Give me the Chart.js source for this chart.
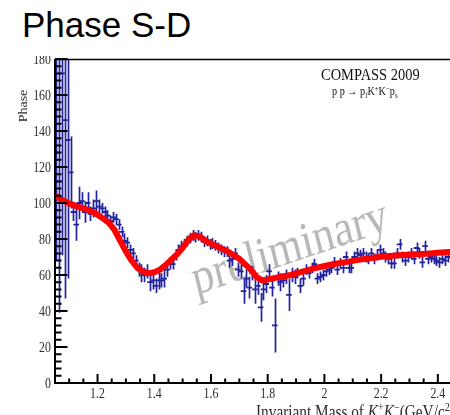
<!DOCTYPE html>
<html>
<head>
<meta charset="utf-8">
<title>Phase S-D</title>
<script src="https://cdn.jsdelivr.net/npm/chart.js@4.4.1/dist/chart.umd.min.js"></script>
<style>
  html, body { margin: 0; padding: 0; overflow: hidden; background: #fff; width: 450px; height: 415px; }
  #wrap { position: absolute; left: 0; top: 0; width: 472px; height: 415px; }
  #head { position: absolute; left: 0; top: 0; width: 450px; height: 56px; background: #fff; z-index: 2; }
  #head span { position: absolute; left: 22px; top: 7px; font-family: "Liberation Sans", Arial, sans-serif; font-size: 35px; line-height: 1; color: #000; white-space: nowrap; }
</style>
</head>
<body>
<div id="head"><span>Phase S-D</span></div>
<div id="wrap"><canvas id="c" width="472" height="415"></canvas></div>
<script>
// Invariant mass bins (GeV/c^2) of the K+K- system
const mass = [
  1.055, 1.065, 1.075, 1.085, 1.095, 1.105, 1.115, 1.125, 1.135, 1.145,
  1.155, 1.165, 1.175, 1.185, 1.195, 1.205, 1.215, 1.225, 1.235, 1.245,
  1.255, 1.265, 1.275, 1.285, 1.295, 1.305, 1.315, 1.325, 1.335, 1.345,
  1.355, 1.365, 1.375, 1.385, 1.395, 1.405, 1.415, 1.425, 1.435, 1.445,
  1.455, 1.465, 1.475, 1.485, 1.495, 1.505, 1.515, 1.525, 1.535, 1.545,
  1.555, 1.565, 1.575, 1.585, 1.595, 1.605, 1.615, 1.625, 1.635, 1.645,
  1.655, 1.665, 1.675, 1.685, 1.695, 1.705, 1.715, 1.725, 1.735, 1.745,
  1.755, 1.765, 1.775, 1.785, 1.795, 1.805, 1.815, 1.825, 1.835, 1.845,
  1.855, 1.865, 1.875, 1.885, 1.895, 1.905, 1.915, 1.925, 1.935, 1.945,
  1.955, 1.965, 1.975, 1.985, 1.995, 2.005, 2.015, 2.025, 2.035, 2.045,
  2.055, 2.065, 2.075, 2.085, 2.095, 2.105, 2.115, 2.125, 2.135, 2.145,
  2.155, 2.165, 2.175, 2.185, 2.195, 2.205, 2.215, 2.225, 2.235, 2.245,
  2.255, 2.265, 2.275, 2.285, 2.295, 2.305, 2.315, 2.325, 2.335, 2.345,
  2.355, 2.365, 2.375, 2.385, 2.395, 2.405, 2.415, 2.425, 2.435
];

// Measured S-D relative phase (degrees)
const phase = [
  128, 112, 172, 146, 135, 117, 95, 88, 100, 101,
  95, 100, 94, 97, 101, 98, 97, 95, 93, 90,
  92, 91, 88, 84, 79, 78, 74, 72, 68, 63,
  61, 60, 62, 56, 57, 54, 57, 57, 58, 63,
  66, 66, 71, 74, 76, 77, 79, 80.5, 82, 81,
  82, 81, 78.5, 79, 77, 77.5, 76.5, 75, 74, 73,
  73, 68, 69, 72, 63, 62, 51, 58, 53, 61,
  52, 54, 42, 52, 55, 62, 53, 32, 58, 56,
  57, 59, 49, 60, 59, 61, 54, 58, 63, 61,
  64, 66, 58, 59, 60, 62, 63, 64, 67, 63,
  66.5, 64, 70, 64, 64, 70, 72, 71, 72, 70,
  69, 72, 69, 71, 74, 72, 70, 69, 66.5, 66.5,
  72, 77, 70, 68, 70, 72, 69, 75, 72, 67,
  76, 69, 70, 69, 68, 67, 69, 68, 70
];

// Statistical uncertainty of each phase point (degrees)
const phaseErr = [
  60, 73, 101, 99, 77, 20, 5, 9, 9, 5,
  6, 6, 4, 5, 6, 4, 3, 3, 3, 3,
  3, 3, 3, 3, 4, 3, 3, 3, 3, 4,
  5, 4, 4, 5, 5, 4, 5, 4, 5, 4,
  3, 3, 3, 3, 3, 3, 3, 3, 3, 3,
  3, 3, 3, 3, 3, 3, 3, 3, 3, 3,
  3, 4, 4, 3, 4, 4, 7, 5, 6, 4,
  8, 5, 8, 6, 5, 4, 5, 15, 4, 5,
  4, 4, 9, 4, 4, 3, 4, 4, 3, 3,
  3, 3, 3, 3, 3, 3, 3, 3, 3, 3,
  3, 3, 3, 3, 3, 3, 3, 3, 3, 3,
  3, 3, 3, 3, 3, 3, 3, 3, 3, 3,
  3, 3, 3, 3, 3, 3, 3, 3, 3, 3,
  3, 3, 3, 3, 3, 3, 3, 3, 3
];

// Mass-dependent fit of the phase difference
const fitMass = [
  1.05, 1.07, 1.10, 1.13, 1.16, 1.19, 1.21, 1.24, 1.26, 1.28,
  1.30, 1.32, 1.34, 1.36, 1.38, 1.40, 1.42, 1.44, 1.46, 1.48,
  1.50, 1.52, 1.54, 1.56, 1.58, 1.60, 1.62, 1.64, 1.66, 1.68,
  1.70, 1.72, 1.74, 1.76, 1.78, 1.80, 1.84, 1.88, 1.92, 1.96,
  2.00, 2.04, 2.08, 2.12, 2.16, 2.20, 2.24, 2.28, 2.32, 2.36,
  2.40, 2.44, 2.48
];
const fitPhase = [
  104.4, 102, 99.8, 98, 96.5, 94.5, 92.4, 89, 85, 79,
  73, 68, 64, 62, 61, 61.5, 63, 65.5, 68.5, 71.5,
  75, 79.5, 82, 81.5, 79, 77.5, 76, 74.5, 73, 71,
  69, 66, 63, 59, 57, 57.5, 58.8, 60, 61.8, 63.5,
  65, 66.3, 67.3, 68.4, 69.3, 70.1, 70.7, 71.1, 71.5, 71.8,
  72.3, 72.8, 73.2
];

// Axis labelling
const xTickLabels = ['1.2', '1.4', '1.6', '1.8', '2', '2.2', '2.4'];
const yTickLabels = ['0', '20', '40', '60', '80', '100', '120', '140', '160', '180'];

const SERIF = '"Liberation Serif", "Times New Roman", serif';
const SQUISH = 0.85;          // text in the frame is drawn slightly condensed
const INK = '#2c2c2c';
const DATA_BLUE = '#22229c';

function condensedText(ctx, text, x, y, align, font, color) {
  ctx.save();
  ctx.translate(x, y);
  ctx.scale(SQUISH, 1);
  ctx.font = font;
  ctx.fillStyle = color;
  ctx.textAlign = align;
  ctx.textBaseline = 'alphabetic';
  ctx.fillText(text, 0, 0);
  ctx.restore();
}

// Draws a sequence of [text, dy, fontSize, italic] runs, condensed, starting at x
function condensedRuns(ctx, runs, x, y, color) {
  ctx.save();
  ctx.translate(x, y);
  ctx.scale(SQUISH, 1);
  ctx.fillStyle = color;
  ctx.textAlign = 'left';
  ctx.textBaseline = 'alphabetic';
  let cx = 0;
  for (const [t, dy, size, italic] of runs) {
    ctx.font = (italic ? 'italic ' : '') + size + 'px ' + SERIF;
    ctx.fillText(t, cx, dy);
    cx += ctx.measureText(t).width;
  }
  ctx.restore();
}

const frameDecor = {
  id: 'frameDecor',
  beforeDatasetsDraw(chart) {
    const { ctx, chartArea: a, scales: { x, y } } = chart;
    ctx.save();
    ctx.beginPath();
    ctx.rect(a.left, a.top, a.right - a.left, a.bottom - a.top);
    ctx.clip();

    // watermark
    ctx.save();
    ctx.translate(196, 295);
    ctx.scale(SQUISH, 1);
    ctx.rotate(-16 * Math.PI / 180);
    ctx.font = '51px ' + SERIF;
    ctx.fillStyle = 'rgba(160,160,160,0.75)';
    ctx.textAlign = 'left';
    ctx.textBaseline = 'alphabetic';
    ctx.fillText('preliminary', 0, 0);
    ctx.restore();

    // vertical error bars
    ctx.strokeStyle = DATA_BLUE;
    ctx.lineWidth = 1.7;
    ctx.beginPath();
    for (let i = 0; i < mass.length; i++) {
      const px = Math.round(x.getPixelForValue(mass[i])) + 0.5;
      ctx.moveTo(px, y.getPixelForValue(phase[i] + phaseErr[i]));
      ctx.lineTo(px, y.getPixelForValue(phase[i] - phaseErr[i]));
    }
    ctx.stroke();
    ctx.restore();
  },
  afterDraw(chart) {
    const { ctx, chartArea: a, scales: { x, y } } = chart;
    ctx.save();
    ctx.strokeStyle = '#000';

    // frame: top edge, left and bottom axes
    ctx.lineWidth = 1.5;
    ctx.beginPath();
    ctx.moveTo(a.left, a.top + 0.5);
    ctx.lineTo(a.right + 10, a.top + 0.5);
    ctx.stroke();
    ctx.lineWidth = 2;
    ctx.beginPath();
    ctx.moveTo(a.left, a.top);
    ctx.lineTo(a.left, a.bottom);
    ctx.lineTo(a.right + 10, a.bottom);
    ctx.stroke();

    // inward ticks on the y axis
    ctx.beginPath();
    for (let v = 0; v <= 180; v += 4) {
      const py = y.getPixelForValue(v);
      const len = v % 20 === 0 ? 12.5 : 6.5;
      ctx.moveTo(a.left, py);
      ctx.lineTo(a.left + len, py);
    }
    // inward ticks on the x axis
    for (let k = 21; k <= 50; k++) {
      const m = k * 0.05;
      const px = x.getPixelForValue(m);
      const len = k % 4 === 0 ? 9 : 4.5;
      ctx.moveTo(px, a.bottom);
      ctx.lineTo(px, a.bottom - len);
    }
    ctx.stroke();

    // tick labels
    const tickFont = '14px ' + SERIF;
    yTickLabels.forEach((lab) => {
      const py = y.getPixelForValue(parseFloat(lab));
      condensedText(ctx, lab, 51, py + 5, 'right', tickFont, INK);
    });
    xTickLabels.forEach((lab) => {
      const px = x.getPixelForValue(parseFloat(lab));
      condensedText(ctx, lab, px, 398, 'center', tickFont, INK);
    });

    // axis titles
    ctx.save();
    ctx.translate(27, 106);
    ctx.rotate(-Math.PI / 2);
    ctx.scale(1, SQUISH);
    ctx.font = '14px ' + SERIF;
    ctx.fillStyle = INK;
    ctx.textAlign = 'center';
    ctx.fillText('Phase', 0, 0);
    ctx.restore();

    condensedRuns(ctx, [
      ['Invariant Mass of ', 0, 18, false],
      ['K', 0, 18, true], ['+', -7, 12, false],
      ['K', 0, 18, true], ['\u2212', -7, 12, false],
      ['(GeV/c', 0, 18, false], ['2', -7, 12, false], [')', 0, 18, false]
    ], 256, 418, INK);

    // experiment label and reaction
    condensedText(ctx, 'COMPASS 2009', 321, 80, 'left', '17px ' + SERIF, '#111');
    condensedRuns(ctx, [
      ['p p \u2192 p', 0, 12, false], ['f', 2.5, 8, false],
      ['K', 0, 12, false], ['+', -4.5, 8, false],
      ['K', 0, 12, false], ['\u2212', -4.5, 8, false],
      ['p', 0, 12, false], ['s', 2.5, 8, false]
    ], 332, 95, '#111');

    ctx.restore();
  }
};

const points = mass.map((m, i) => ({ x: m, y: phase[i] }));
const fitLine = fitMass.map((m, i) => ({ x: m, y: fitPhase[i] }));

new Chart(document.getElementById('c'), {
  type: 'scatter',
  data: {
    datasets: [
      {
        type: 'line',
        data: fitLine,
        borderColor: '#ff0000',
        borderWidth: 6,
        pointRadius: 0,
        tension: 0,
        fill: false,
        order: 1
      },
      {
        type: 'scatter',
        data: points,
        pointStyle: 'line',
        pointRadius: 2.8,
        borderColor: DATA_BLUE,
        backgroundColor: DATA_BLUE,
        pointBorderWidth: 1.8,
        borderWidth: 1.8,
        order: 2
      }
    ]
  },
  options: {
    responsive: false,
    devicePixelRatio: 1,
    animation: false,
    events: [],
    layout: { padding: { left: 0, top: 59, right: 3, bottom: 0 } },
    plugins: { legend: { display: false }, tooltip: { enabled: false }, title: { display: false } },
    scales: {
      x: {
        type: 'linear', min: 1.05, max: 2.5,
        ticks: { display: false, stepSize: 0.2 },
        grid: { display: false },
        border: { display: false },
        afterFit(scale) { scale.height = 32; }
      },
      y: {
        type: 'linear', min: 0, max: 180,
        ticks: { display: false, stepSize: 20 },
        grid: { display: false },
        border: { display: false },
        afterFit(scale) { scale.width = 55; }
      }
    }
  },
  plugins: [frameDecor]
});
</script>
</body>
</html>
